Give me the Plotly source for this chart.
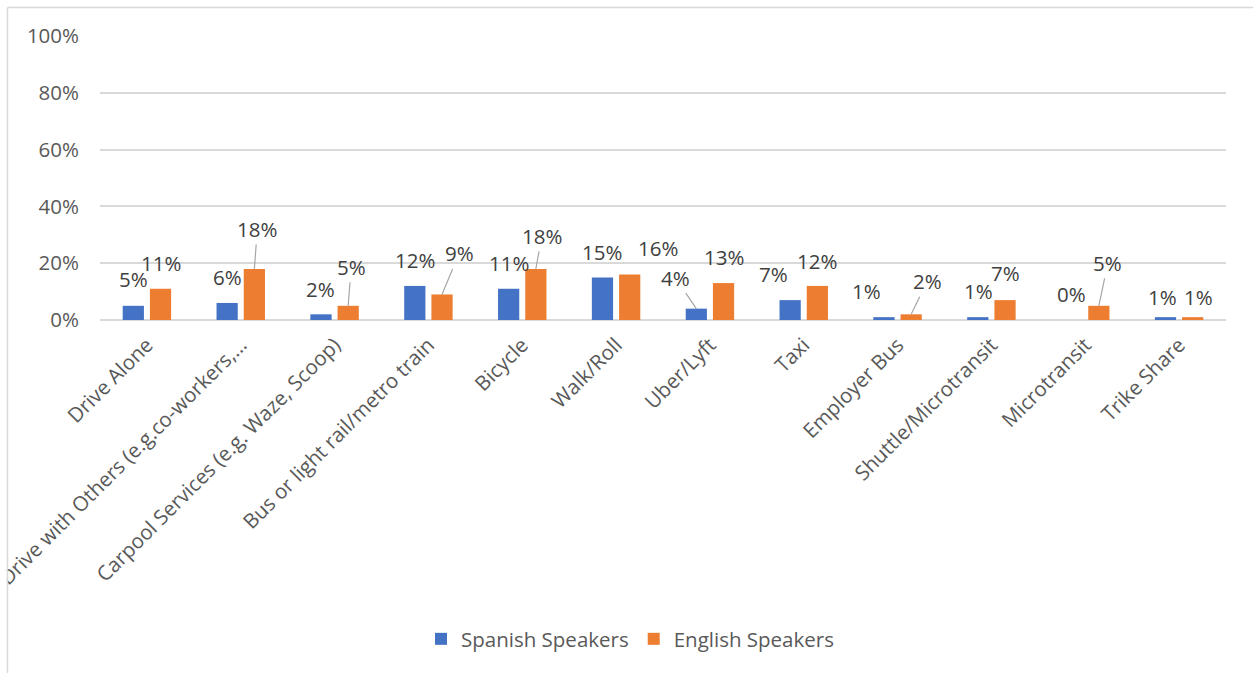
import plotly.graph_objects as go

# ---- data -------------------------------------------------------------
categories = [
    "Drive Alone",
    "Drive with Others (e.g.co-workers,…",
    "Carpool Services (e.g. Waze, Scoop)",
    "Bus or light rail/metro train",
    "Bicycle",
    "Walk/Roll",
    "Uber/Lyft",
    "Taxi",
    "Employer Bus",
    "Shuttle/Microtransit",
    "Microtransit",
    "Trike Share",
]
spanish = [5, 6, 2, 12, 11, 15, 4, 7, 1, 1, 0, 1]
english = [11, 18, 5, 9, 18, 16, 13, 12, 2, 7, 5, 1]
y_ticks = [0, 20, 40, 60, 80, 100]
y_tick_labels = [f"{v}%" for v in y_ticks]

# ---- label placement (pixel offsets from the top of each bar) ----------
spanish_dx = [0, 0, 0, 0, 0, 0, -21, -17, -17, 1, 0, -3]
spanish_dy = [-27, -26, -25, -26, -26, -25, -31, -26, -26, -26, -26, -20]
spanish_leader = [False, False, False, False, False, False, True, False, False, False, False, False]
english_dx = [0, 3, 3, 17, 6, 28, 0, 0, 16, 0, 9, 6]
english_dy = [-26, -40, -39, -41, -33, -27, -26, -25, -33, -27, -43, -20]
english_leader = [False, True, True, True, True, False, False, False, True, False, True, False]

# ---- style ---------------------------------------------------------------
W, H = 1253, 673
ML, MR, MT, MB = 100, 27, 36, 353
BARGAP, GROUPGAP = 0.42, 0.22
BLUE, ORANGE = "#4472C4", "#ED7D31"
GRID = "#D9D9D9"
TICK_COLOR = "#595959"
LABEL_COLOR = "#404040"
FONT = "Open Sans"
FS = 20.5

plot_w = W - ML - MR
plot_h = H - MT - MB
cat_w = plot_w / len(categories)
slot = cat_w * (1 - BARGAP) / 2
bar_off = slot / 2

fig = go.Figure()
fig.add_trace(go.Bar(name="Spanish Speakers", x=categories, y=spanish,
                     marker=dict(color=BLUE, line=dict(width=0))))
fig.add_trace(go.Bar(name="English Speakers", x=categories, y=english,
                     marker=dict(color=ORANGE, line=dict(width=0))))

annotations = []
for vals, dxs, dys, leads, sign in (
    (spanish, spanish_dx, spanish_dy, spanish_leader, -1),
    (english, english_dx, english_dy, english_leader, 1),
):
    for cat, v, dx, dy, lead in zip(categories, vals, dxs, dys, leads):
        annotations.append(dict(
            x=cat, y=v, xref="x", yref="y",
            xshift=sign * bar_off,
            text=f"{v}%",
            showarrow=True,
            arrowhead=0, arrowwidth=1.2,
            arrowcolor="#A6A6A6" if lead else "rgba(0,0,0,0)",
            ax=dx, ay=dy,
            font=dict(family=FONT, size=FS, color=LABEL_COLOR),
        ))


def px_to_paper_x(px):
    return (px - ML) / plot_w


def px_to_paper_y(py):
    return (H - MB - py) / plot_h


shapes = [
    # white strip clipping the long rotated label at the frame
    dict(type="rect", xref="paper", yref="paper",
         x0=px_to_paper_x(-5), x1=px_to_paper_x(6.8),
         y0=px_to_paper_y(H + 5), y1=px_to_paper_y(-5),
         fillcolor="white", line=dict(width=0), layer="above"),
    # chart frame: left and top edges
    dict(type="line", xref="paper", yref="paper",
         x0=px_to_paper_x(7.5), x1=px_to_paper_x(7.5),
         y0=px_to_paper_y(7.5), y1=px_to_paper_y(H + 5),
         line=dict(color=GRID, width=1.5), layer="above"),
    dict(type="line", xref="paper", yref="paper",
         x0=px_to_paper_x(7.5), x1=px_to_paper_x(W + 5),
         y0=px_to_paper_y(7.5), y1=px_to_paper_y(7.5),
         line=dict(color=GRID, width=1.5), layer="above"),
]

fig.update_layout(
    width=W, height=H,
    margin=dict(l=ML, r=MR, t=MT, b=MB, autoexpand=False),
    paper_bgcolor="white", plot_bgcolor="white",
    barmode="group", bargap=BARGAP, bargroupgap=GROUPGAP,
    font=dict(family=FONT, size=FS, color=TICK_COLOR),
    showlegend=True,
    legend=dict(orientation="h", x=px_to_paper_x(630), xanchor="center",
                y=px_to_paper_y(639), yanchor="middle",
                font=dict(family=FONT, size=FS, color=TICK_COLOR),
                itemwidth=30, traceorder="normal"),
    xaxis=dict(tickangle=-45, showgrid=False, showline=False, ticks="",
               tickfont=dict(family=FONT, size=FS, color=TICK_COLOR),
               ticklabelstandoff=8),
    yaxis=dict(range=[0, 100], tickmode="array", tickvals=y_ticks,
               ticktext=y_tick_labels,
               showgrid=True, gridcolor=GRID, gridwidth=1.5,
               zeroline=True, zerolinecolor=GRID, zerolinewidth=1.5,
               showline=False, ticks="",
               tickfont=dict(family=FONT, size=FS, color=TICK_COLOR),
               ticklabelstandoff=20),
    annotations=annotations,
    shapes=shapes,
)

fig.write_html("out.html")
